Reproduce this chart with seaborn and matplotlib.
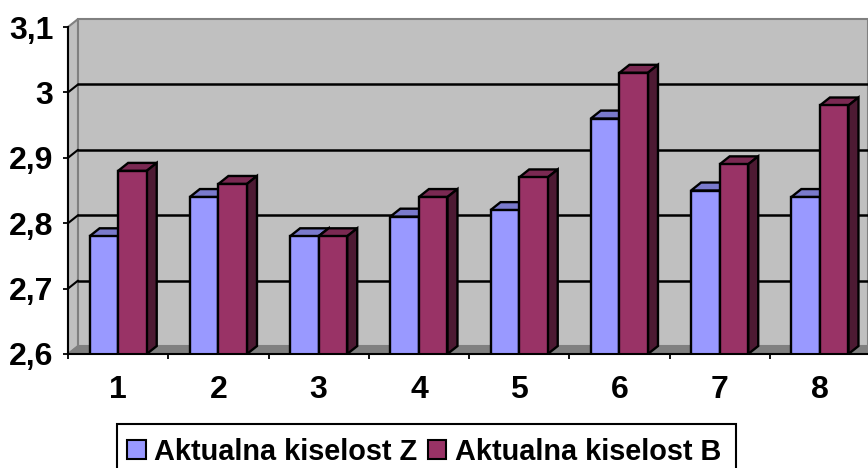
import matplotlib
matplotlib.use("Agg")
import matplotlib.pyplot as plt
from matplotlib.patches import Polygon, Rectangle
import pandas as pd
import seaborn as sns

categories = ["1", "2", "3", "4", "5", "6", "7", "8"]
kiselost_z = [2.78, 2.84, 2.78, 2.81, 2.82, 2.96, 2.85, 2.84]
kiselost_b = [2.88, 2.86, 2.78, 2.84, 2.87, 3.03, 2.89, 2.98]
y_ticks = [2.6, 2.7, 2.8, 2.9, 3.0, 3.1]
y_labels = ["2,6", "2,7", "2,8", "2,9", "3", "3,1"]
series_names = ["Aktualna kiselost Z", "Aktualna kiselost B"]

df = pd.DataFrame({
    "broj": categories * 2,
    "kiselost": kiselost_z + kiselost_b,
    "serija": [series_names[0]] * 8 + [series_names[1]] * 8,
})

sns.set_theme(style="white")
plt.rcParams["font.family"] = ["Liberation Sans", "DejaVu Sans"]

fig = plt.figure(figsize=(8.68, 4.68), dpi=100)
ax = fig.add_axes([68 / 868, 1 - 354 / 468, 800 / 868, 327 / 468])

palette = {series_names[0]: "#9999FF", series_names[1]: "#993366"}
sns.barplot(
    data=df, x="broj", y="kiselost", hue="serija", palette=palette, ax=ax,
    width=0.57, gap=0, edgecolor="black", linewidth=1.7, saturation=1,
    legend=False, zorder=5,
)

ax.set_xlim(-0.5, 7.48)
ax.set_ylim(2.6, 3.1)
ax.set_xlabel("")
ax.set_ylabel("")

# fake 3D depth, in data units
dx = 0.1
dy = 0.0122
x0, x1 = ax.get_xlim()

# back wall, side wall and floor
ax.add_patch(Polygon([(x0, 2.6), (x0 + dx, 2.6 + dy), (x0 + dx, 3.1 + dy), (x0, 3.1)],
                     fc="#C0C0C0", ec="#808080", lw=1.5, clip_on=False, zorder=1))
ax.add_patch(Polygon([(x0 + dx, 2.6 + dy), (x1, 2.6 + dy), (x1, 3.1 + dy), (x0 + dx, 3.1 + dy)],
                     fc="#C0C0C0", ec="#808080", lw=1.5, clip_on=False, zorder=1))
ax.add_patch(Polygon([(x0, 2.6), (x0 + dx, 2.6 + dy), (x1, 2.6 + dy), (x1, 2.6)],
                     fc="#808080", ec="#808080", lw=1, zorder=2))
for t in y_ticks[1:-1]:
    ax.plot([x0, x0 + dx], [t, t + dy], color="black", lw=1.5, zorder=2)
    ax.plot([x0 + dx, x1], [t + dy, t + dy], color="black", lw=1.8, zorder=2)

# bar tops and sides
shades = {"#9999FF": ("#7A7ACC", "#4D4D80"), "#993366": ("#7A2952", "#4D1A33")}
for i, bar in enumerate(ax.patches[:16]):
    x, w, h = bar.get_x(), bar.get_width(), bar.get_height()
    top = bar.get_y() + h
    top_c, side_c = shades["#9999FF" if i < 8 else "#993366"]
    z = 4 + (i % 8) * 0.01 + (0 if i < 8 else 0.005)
    bar.set_zorder(z + 0.001)
    ax.add_patch(Polygon([(x, top), (x + dx, top + dy), (x + w + dx, top + dy), (x + w, top)],
                         fc=top_c, ec="black", lw=1.7, zorder=z))
    ax.add_patch(Polygon([(x + w, 2.6), (x + w + dx, 2.6 + dy), (x + w + dx, top + dy), (x + w, top)],
                         fc=side_c, ec="black", lw=1.7, zorder=z))

for side in ["top", "right"]:
    ax.spines[side].set_visible(False)
for side in ["left", "bottom"]:
    ax.spines[side].set_visible(True)
    ax.spines[side].set_color("black")
    ax.spines[side].set_linewidth(1.5)
    ax.spines[side].set_zorder(6)

ax.set_yticks(y_ticks, y_labels, fontsize=23, fontweight="bold", color="black")
ax.tick_params(axis="y", left=True, length=3.5, width=1.3, color="black", pad=7)
ax.set_xticks(range(8), categories, fontsize=23, fontweight="bold", color="black")
ax.set_xticks([i - 0.5 for i in range(9) if i - 0.5 <= 7.48], minor=True)
ax.tick_params(axis="x", which="major", bottom=False, length=0, pad=15)
ax.tick_params(axis="x", which="minor", bottom=True, length=3.5, width=1.3, color="black")

# legend box runs off the bottom of the picture, so it is drawn on its own
fig.add_artist(Rectangle((117 / 868, -12 / 468), 619 / 868, 56 / 468, transform=fig.transFigure,
                         fc="white", ec="black", lw=1.5, zorder=-1))
handles = [Rectangle((0, 0), 1, 1, fc=palette[s], ec="black", lw=1.5) for s in series_names]
leg = ax.legend(
    handles, series_names, loc="upper left",
    bbox_to_anchor=(117 / 868, 1 - 428 / 468), bbox_transform=fig.transFigure,
    ncol=2, frameon=False,
    prop={"family": "Liberation Sans", "weight": "bold", "size": 20.75},
    labelcolor="black",
    handlelength=0.65, handleheight=0.65, handletextpad=0.31, columnspacing=0.34,
    borderpad=0.34, borderaxespad=0,
)
leg.set_zorder(10)

fig.savefig("out.png", dpi=100)
